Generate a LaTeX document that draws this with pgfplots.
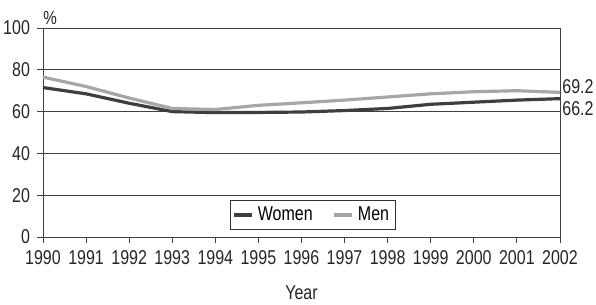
\documentclass[border=0pt]{standalone}
\usepackage{pgfplots}
\pgfplotsset{compat=1.18}
\usepackage{fontspec}
\setmainfont[FakeStretch=0.8]{Liberation Sans}
\definecolor{women}{HTML}{3E3E3E}
\definecolor{men}{HTML}{A6A6A6}
\begin{document}
\begin{tikzpicture}[x=1pt,y=1pt]
\useasboundingbox (-21.5pt,-34pt) rectangle (276.5pt,118.5pt);
\begin{axis}[
  scale only axis,
  width=258.5pt, height=104.5pt,
  xmin=1990, xmax=2002, ymin=0, ymax=100,
  xtick={1990,...,2002}, ytick={0,20,...,100},
  xticklabel style={/pgf/number format/1000 sep={}},
  /pgf/number format/assume math mode=true,
  tick label style={font=\fontsize{10}{11}\selectfont, text=black!85},
  ymajorgrids, major grid style={black!75, line width=0.4pt},
  tick align=outside, major tick length=3pt,
  xtick pos=bottom, ytick pos=left,
  axis line style={black!75, line width=0.4pt},
  tick style={black!75, line width=0.4pt},
  xlabel={Year}, xlabel style={font=\fontsize{10}{11}\selectfont, yshift=-4pt, text=black!85},
  legend style={at={(0.522,0.105)}, anchor=center, legend columns=2,
    font=\fontsize{10}{11}\selectfont, draw=black!80, inner sep=1pt,
    /tikz/every even column/.append style={column sep=8pt}},
  legend image code/.code={\draw[#1] (0pt,0pt) -- (9pt,0pt);},
  clip=false,
]
\addplot[women, line width=1.6pt] coordinates {
 (1990,71.5) (1991,68.5) (1992,64) (1993,60) (1994,59.5) (1995,59.6) (1996,59.8)
 (1997,60.5) (1998,61.5) (1999,63.5) (2000,64.5) (2001,65.5) (2002,66.2)};
\addplot[men, line width=1.6pt] coordinates {
 (1990,76.5) (1991,72) (1992,66.5) (1993,61.5) (1994,61) (1995,63) (1996,64.2)
 (1997,65.5) (1998,67) (1999,68.5) (2000,69.5) (2001,70) (2002,69.2)};
\legend{Women,Men}
\node[anchor=west, font=\fontsize{10}{11}\selectfont, text=black!85, inner sep=1pt] at (axis cs:2002,71.8) {69.2};
\node[anchor=west, font=\fontsize{10}{11}\selectfont, text=black!85, inner sep=1pt] at (axis cs:2002,61.2) {66.2};
\node[anchor=south west, font=\fontsize{9.5}{10}\selectfont, text=black!85, inner sep=0pt] at (axis cs:1990,101.5) {\%};
\end{axis}
\end{tikzpicture}
\end{document}
